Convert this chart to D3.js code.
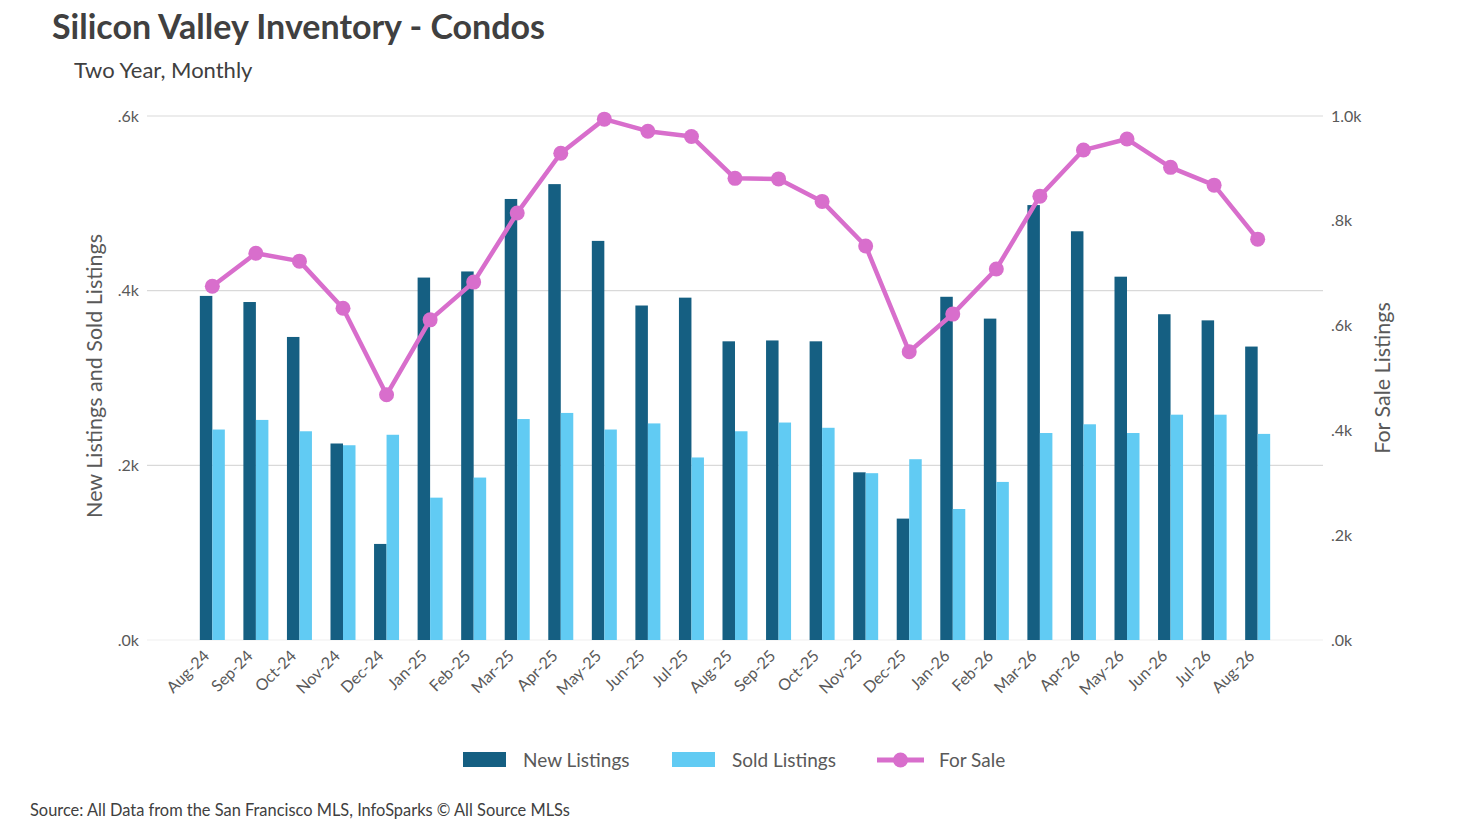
<!DOCTYPE html>
<html>
<head>
<meta charset="utf-8">
<script src="https://cdn.jsdelivr.net/npm/d3@7"></script>
<style>
  body { margin: 0; background: #fff; font-family: Lato, "Open Sans", sans-serif; }
  svg { display: block; }
</style>
</head>
<body>
<svg id="chart" width="1470" height="826"></svg>
<script>
// data
const months = ["Aug-24", "Sep-24", "Oct-24", "Nov-24", "Dec-24", "Jan-25", "Feb-25", "Mar-25", "Apr-25",
  "May-25", "Jun-25", "Jul-25", "Aug-25", "Sep-25", "Oct-25", "Nov-25", "Dec-25", "Jan-26", "Feb-26",
  "Mar-26", "Apr-26", "May-26", "Jun-26", "Jul-26", "Aug-26"];
const newListings = [394, 387, 347, 225, 110, 415, 422, 505, 522, 457, 383, 392, 342, 343, 342, 192, 139,
  393, 368, 498, 468, 416, 373, 366, 336];
const soldListings = [241, 252, 239, 223, 235, 163, 186, 253, 260, 241, 248, 209, 239, 249, 243, 191, 207,
  150, 181, 237, 247, 237, 258, 258, 236];
const forSale = [675, 738, 723, 633, 468, 611, 683, 815, 929, 994, 971, 961, 881, 880, 837, 752, 550,
  622, 708, 847, 935, 956, 902, 868, 765];
const leftTicks = [0, 200, 400, 600];
const rightTicks = [0, 200, 400, 600, 800, 1000];

const colors = { newL: "#155f82", sold: "#61cbf3", sale: "#d86ecc" };
const textCol = "#595959";

const svg = d3.select("#chart");
const margin = { top: 116, right: 147, bottom: 186, left: 147 };
const width = 1470, height = 826;
const innerWidth = width - margin.left - margin.right;
const innerHeight = height - margin.top - margin.bottom;

const g = svg.append("g").attr("transform", `translate(${margin.left},${margin.top})`);

const x = d3.scalePoint().domain(months).range([0, innerWidth]).padding(1.5);
const barW = 12.5;
const yL = d3.scaleLinear().domain([0, 600]).range([innerHeight, 0]);
const yR = d3.scaleLinear().domain([0, 1000]).range([innerHeight, 0]);

const fmt = (v) => v === 1000 ? "1.0k" : "." + (v / 100) + "k";

// gridlines
g.append("g")
  .selectAll("line")
  .data(leftTicks)
  .join("line")
  .attr("x1", 0).attr("x2", innerWidth)
  .attr("y1", (d) => yL(d)).attr("y2", (d) => yL(d))
  .attr("stroke", (d) => d === 0 ? "#f0f0f0" : "#d9d9d9")
  .attr("stroke-width", 1.2);

// left axis
const leftAxis = g.append("g")
  .call(d3.axisLeft(yL).tickValues(leftTicks).tickFormat(fmt).tickSize(0).tickPadding(8));
leftAxis.select(".domain").remove();
leftAxis.selectAll("text")
  .attr("fill", textCol).style("font-family", "Lato").style("font-size", "16px");

// right axis
const rightAxis = g.append("g")
  .attr("transform", `translate(${innerWidth},0)`)
  .call(d3.axisRight(yR).tickValues(rightTicks).tickFormat(fmt).tickSize(0).tickPadding(8));
rightAxis.select(".domain").remove();
rightAxis.selectAll("text")
  .attr("fill", textCol).style("font-family", "Lato").style("font-size", "16px");

// x labels
g.append("g")
  .selectAll("text")
  .data(months)
  .join("text")
  .attr("transform", (d) => `translate(${x(d) - 6},${innerHeight + 13}) rotate(-45)`)
  .attr("text-anchor", "end")
  .attr("dy", "0.35em")
  .attr("fill", textCol)
  .style("font-family", "Lato")
  .style("font-size", "16px")
  .text((d) => d);

// bars
const barsG = g.append("g");
barsG.selectAll("rect.new")
  .data(months)
  .join("rect")
  .attr("class", "new")
  .attr("x", (d) => x(d) - barW)
  .attr("width", barW)
  .attr("y", (d, i) => yL(newListings[i]))
  .attr("height", (d, i) => innerHeight - yL(newListings[i]))
  .attr("fill", colors.newL);
barsG.selectAll("rect.sold")
  .data(months)
  .join("rect")
  .attr("class", "sold")
  .attr("x", (d) => x(d))
  .attr("width", barW)
  .attr("y", (d, i) => yL(soldListings[i]))
  .attr("height", (d, i) => innerHeight - yL(soldListings[i]))
  .attr("fill", colors.sold);

// for sale line
const line = d3.line()
  .x((d, i) => x(months[i]))
  .y((d) => yR(d));
g.append("path")
  .datum(forSale)
  .attr("fill", "none")
  .attr("stroke", colors.sale)
  .attr("stroke-width", 4.5)
  .attr("stroke-linejoin", "round")
  .attr("d", line);
g.append("g")
  .selectAll("circle")
  .data(forSale)
  .join("circle")
  .attr("cx", (d, i) => x(months[i]))
  .attr("cy", (d) => yR(d))
  .attr("r", 7.5)
  .attr("fill", colors.sale);

// axis titles
svg.append("text")
  .attr("transform", `translate(102,${margin.top + innerHeight / 2 - 2}) rotate(-90)`)
  .attr("text-anchor", "middle")
  .attr("fill", textCol)
  .style("font-family", "Lato").style("font-size", "21.5px")
  .text("New Listings and Sold Listings");
svg.append("text")
  .attr("transform", `translate(1390,${margin.top + innerHeight / 2}) rotate(-90)`)
  .attr("text-anchor", "middle")
  .attr("fill", textCol)
  .style("font-family", "Lato").style("font-size", "21.5px")
  .text("For Sale Listings");

// title block
svg.append("text")
  .attr("x", 52).attr("y", 39)
  .attr("fill", "#404040")
  .style("font-family", "Lato").style("font-weight", "bold").style("font-size", "34px")
  .text("Silicon Valley Inventory - Condos");
svg.append("text")
  .attr("x", 74).attr("y", 78)
  .attr("fill", "#404040")
  .style("font-family", "Lato").style("font-size", "22px")
  .text("Two Year, Monthly");

// legend
const legend = svg.append("g").attr("transform", "translate(0,760)");
const legendItems = [
  { label: "New Listings", type: "bar", color: colors.newL, x: 463 },
  { label: "Sold Listings", type: "bar", color: colors.sold, x: 672 },
  { label: "For Sale", type: "line", color: colors.sale, x: 877 }
];
legendItems.forEach((it) => {
  const li = legend.append("g").attr("transform", `translate(${it.x},0)`);
  if (it.type === "bar") {
    li.append("rect").attr("x", 0).attr("y", -8).attr("width", 43).attr("height", 15).attr("fill", it.color);
  } else {
    li.append("line").attr("x1", 0).attr("x2", 47).attr("y1", 0).attr("y2", 0)
      .attr("stroke", it.color).attr("stroke-width", 5);
    li.append("circle").attr("cx", 23.5).attr("cy", 0).attr("r", 7.5).attr("fill", it.color);
  }
  li.append("text")
    .attr("x", it.type === "bar" ? 60 : 62).attr("y", 0).attr("dy", "0.35em")
    .attr("fill", textCol)
    .style("font-family", "Lato").style("font-size", "19px")
    .text(it.label);
});

// source
svg.append("text")
  .attr("x", 30).attr("y", 816)
  .attr("fill", "#404040")
  .style("font-family", "Lato").style("font-size", "16.4px")
  .text("Source: All Data from the San Francisco MLS, InfoSparks \u00a9 All Source MLSs");
</script>
</body>
</html>
